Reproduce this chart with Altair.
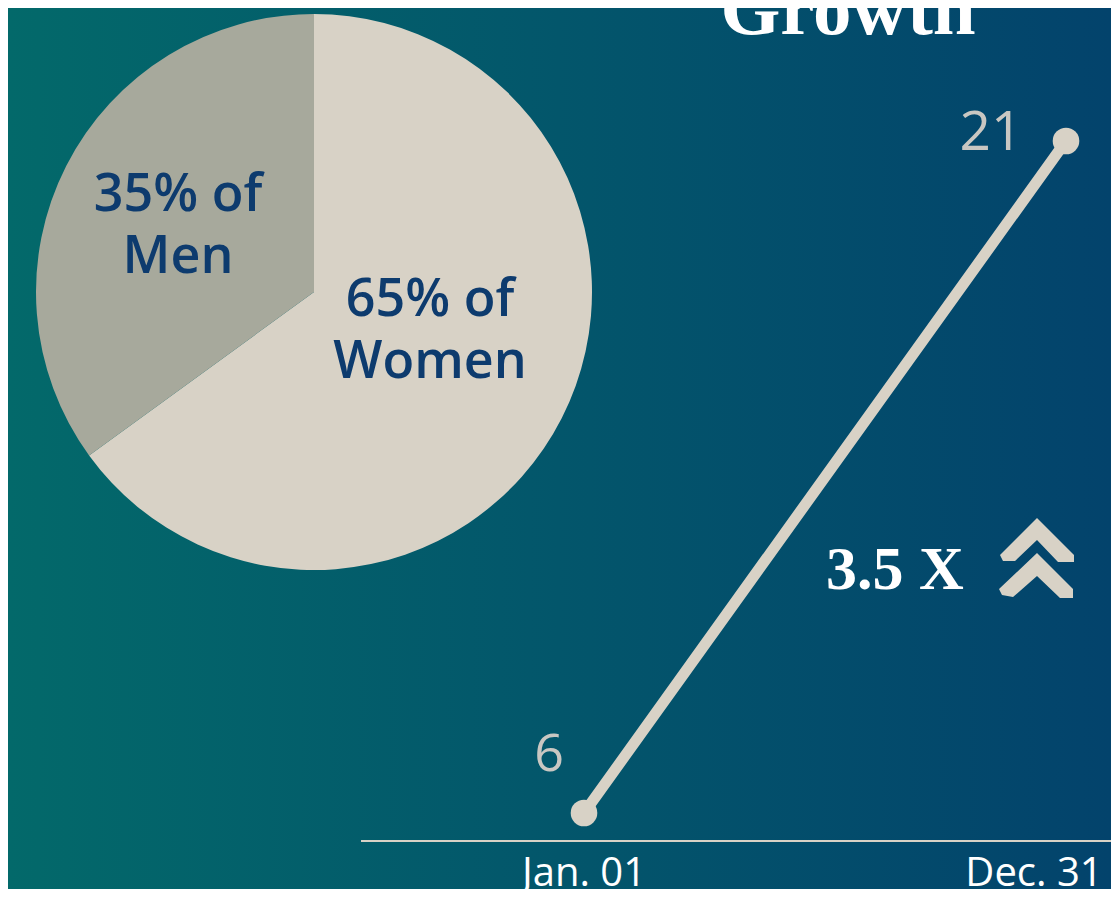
import altair as alt
import pandas as pd

# ---------------- data ----------------
genders = ["Women", "Men"]
shares = [65, 35]
pie_colors = ["#D8D2C6", "#A7A99C"]

dates = ["Jan. 01", "Dec. 31"]
counts = [6, 21]

title_text = "Growth"

# ---------------- layout constants ----------------
W, H = 1103, 881
LIGHT = "#D8D2C6"
NUM_GREY = "#C9C7C2"
LABEL_BLUE = "#0D3B6E"

pie_df = pd.DataFrame({"gender": genders, "share": shares, "ord": list(range(len(genders)))})
pie_df["label"] = [f"{s}% of\n{g}" for g, s in zip(genders, shares)]

line_df = pd.DataFrame({"date": dates, "count": counts, "idx": list(range(len(dates)))})
ratio_text = f"{counts[-1] / counts[0]:g} X"

# x: idx 0 -> 576 px, idx 1 -> 1058 px ; y: 6 -> 805 px, 21 -> 133 px
x_scale = alt.Scale(domain=[-576 / 482, (W - 576) / 482], nice=False, zero=False)
y_scale = alt.Scale(domain=[4.30357, 23.96875], nice=False, zero=False)

blank = alt.Data(values=[{}])

# background gradient
bg = alt.Chart(blank).mark_rect(
    color=alt.LinearGradient(
        gradient="linear",
        stops=[alt.GradientStop(color="#03696A", offset=0),
               alt.GradientStop(color="#03436C", offset=1)],
        x1=0, x2=1, y1=0, y2=0,
    )
).encode(x=alt.value(0), x2=alt.value(W), y=alt.value(0), y2=alt.value(H))

# pie
pie_base = alt.Chart(pie_df).encode(
    theta=alt.Theta("share:Q", stack=True),
    order=alt.Order("ord:Q"),
)
arcs = pie_base.mark_arc(radius=278).encode(
    x=alt.value(306), y=alt.value(284),
    color=alt.Color("gender:N", scale=alt.Scale(domain=genders, range=pie_colors), legend=None),
)

label_pos = {"Men": (170, 187), "Women": (422, 292)}
pie_labels = []
for g in genders:
    px, py = label_pos[g]
    pie_labels.append(
        alt.Chart(pie_df).transform_filter(alt.datum.gender == g).mark_text(
            font="Open Sans", fontSize=52, fontWeight=600, color=LABEL_BLUE,
            lineBreak="\n", lineHeight=62, align="center", baseline="middle",
        ).encode(x=alt.value(px), y=alt.value(py), text="label:N")
    )

# axis baseline
axis_rule = alt.Chart(blank).mark_rule(color=LIGHT, strokeWidth=2).encode(
    x=alt.value(353), x2=alt.value(W), y=alt.value(833)
)

# line chart
line_base = alt.Chart(line_df).encode(
    x=alt.X("idx:Q", scale=x_scale, axis=None),
    y=alt.Y("count:Q", scale=y_scale, axis=None),
)
line = line_base.mark_line(color=LIGHT, strokeWidth=11, strokeCap="round")
pts = line_base.mark_circle(size=707, color=LIGHT, opacity=1)

val_first = line_base.transform_filter(alt.datum.idx == 0).mark_text(
    font="Open Sans", fontSize=52, fontWeight=400, color=NUM_GREY,
    align="center", baseline="middle", dx=-35, dy=-58,
).encode(text="count:Q")
val_last = line_base.transform_filter(alt.datum.idx == len(counts) - 1).mark_text(
    font="Open Sans", fontSize=55, fontWeight=400, color=NUM_GREY,
    align="center", baseline="middle", dx=-75, dy=-8,
).encode(text="count:Q")

date_first = alt.Chart(line_df).transform_filter(alt.datum.idx == 0).mark_text(
    font="Open Sans", fontSize=40, color="#FFFFFF", align="center", baseline="middle",
).encode(x=alt.X("idx:Q", scale=x_scale, axis=None), y=alt.value(866), text="date:N")
date_last = alt.Chart(line_df).transform_filter(alt.datum.idx == len(counts) - 1).mark_text(
    font="Open Sans", fontSize=40, color="#FFFFFF", align="center", baseline="middle", dx=-32,
).encode(x=alt.X("idx:Q", scale=x_scale, axis=None), y=alt.value(866), text="date:N")

# annotations
title = alt.Chart(blank).mark_text(
    text=title_text, font="Liberation Serif", fontSize=77, fontWeight="bold",
    color="#FFFFFF", align="center", baseline="alphabetic",
).encode(x=alt.value(840), y=alt.value(26))

ratio = alt.Chart(blank).mark_text(
    text=ratio_text, font="Liberation Serif", fontSize=62, fontWeight="bold",
    color="#FFFFFF", align="left", baseline="alphabetic",
).encode(x=alt.value(818), y=alt.value(581))

chevron_path = (
    "M 0 -1 L 0.925 -0.075 L 0.925 0.1 L 0.525 0.1 L 0 -0.45 L -0.55 0.075 "
    "L -0.85 0.075 L -0.925 -0.075 Z "
    "M 0 -0.125 L 0.9 0.775 L 0.9 1 L 0.575 1 L 0 0.45 L -0.6 0.975 "
    "L -0.875 0.925 L -0.95 0.775 Z"
)
chevron = alt.Chart(blank).mark_point(
    shape=chevron_path, size=6400, filled=True, color=LIGHT, opacity=1, strokeWidth=0,
).encode(x=alt.value(1029), y=alt.value(550))

chart = alt.layer(
    bg, arcs, *pie_labels, axis_rule, line, pts, val_first, val_last,
    date_first, date_last, title, ratio, chevron,
).properties(
    width=W, height=H, padding=0, autosize="none",
).configure_view(stroke=None)

chart.save("out.html", embed_options={"renderer": "svg", "actions": False})
